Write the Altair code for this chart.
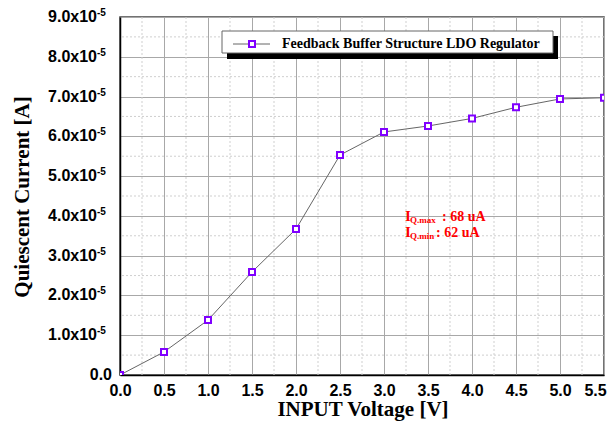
import altair as alt
import pandas as pd

# ---- data ----
voltage = [0.0, 0.5, 1.0, 1.5, 2.0, 2.5, 3.0, 3.5, 4.0, 4.5, 5.0, 5.5]
current = [0.0, 0.58e-5, 1.38e-5, 2.59e-5, 3.67e-5, 5.53e-5, 6.11e-5, 6.26e-5,
           6.45e-5, 6.73e-5, 6.94e-5, 6.97e-5]

x_ticks = [0.0, 0.5, 1.0, 1.5, 2.0, 2.5, 3.0, 3.5, 4.0, 4.5, 5.0, 5.5]
x_minor = [0.25, 0.75, 1.25, 1.75, 2.25, 2.75, 3.25, 3.75, 4.25, 4.75, 5.25]
y_ticks = [0.0, 1e-5, 2e-5, 3e-5, 4e-5, 5e-5, 6e-5, 7e-5, 8e-5, 9e-5]
y_minor = [0.5e-5, 1.5e-5, 2.5e-5, 3.5e-5, 4.5e-5, 5.5e-5, 6.5e-5, 7.5e-5, 8.5e-5]
y_tick_mantissa = ["1.0x10", "2.0x10", "3.0x10", "4.0x10", "5.0x10",
                   "6.0x10", "7.0x10", "8.0x10", "9.0x10"]
y_tick_exponent = "-5"
y_zero_label = "0.0"

series_name = "Feedback Buffer Structure LDO Regulator"
x_title = "INPUT Voltage [V]"
y_title = "Quiescent Current [A]"
ann_max = ["I", "Q.max", ": 68 uA"]
ann_min = ["I", "Q.min", ": 62 uA"]

# ---- styling ----
W, H = 484, 358
PURPLE = "#8000ff"
SANS = "Liberation Sans"
SERIF = "Liberation Serif"

df = pd.DataFrame({"v": voltage, "i": current})
one = pd.DataFrame({"a": [0]})

xs = alt.Scale(domain=[0, 5.5], nice=False, zero=False)
ys = alt.Scale(domain=[0, 9e-5], nice=False)

ax_x = alt.Axis(values=x_ticks, format=".1f", ticks=False, labelPadding=7,
                labelFont=SANS, labelFontWeight="bold", labelFontSize=16,
                labelColor="black", grid=True, gridColor="#a8a8a8", gridWidth=1,
                domainColor="black", domainWidth=1.5, title=None,
                labelFlush=False, labelOverlap=False,
                labelOffset={"condition": {"test": "datum.value >= 5.5", "value": -9},
                             "value": 0})
ax_y = alt.Axis(values=y_ticks, labels=False, ticks=False, grid=True,
                gridColor="#a8a8a8", gridWidth=1, domainColor="black",
                domainWidth=1.5, title=None)

X = lambda f: alt.X(f, type="quantitative", scale=xs, axis=ax_x)
Y = lambda f: alt.Y(f, type="quantitative", scale=ys, axis=ax_y)

minor_x = alt.Chart(pd.DataFrame({"v": x_minor})).mark_rule(
    color="#cfcfcf", strokeDash=[2, 2], strokeWidth=1).encode(x=X("v"))
minor_y = alt.Chart(pd.DataFrame({"i": y_minor})).mark_rule(
    color="#cfcfcf", strokeDash=[2, 2], strokeWidth=1).encode(y=Y("i"))

line = alt.Chart(df).mark_line(color="#666666", strokeWidth=1).encode(x=X("v"), y=Y("i"))
pts = alt.Chart(df).mark_point(shape="square", size=36, fill="white",
                               stroke=PURPLE, strokeWidth=2, opacity=1,
                               fillOpacity=1, clip=True).encode(x=X("v"), y=Y("i"))

# y tick labels with superscript exponent
ylab_df = pd.DataFrame({"i": y_ticks[1:], "t": y_tick_mantissa})
ylab = alt.Chart(ylab_df).mark_text(align="right", baseline="middle", font=SANS,
                                    fontWeight="bold", fontSize=16, color="black"
                                    ).encode(y=Y("i"), x=alt.value(-23), text="t:N")
ysup = alt.Chart(ylab_df).mark_text(align="left", baseline="middle", font=SANS,
                                    fontWeight="bold", fontSize=10, color="black",
                                    dy=-4, text=y_tick_exponent
                                    ).encode(y=Y("i"), x=alt.value(-23))
yzero = alt.Chart(pd.DataFrame({"i": y_ticks[:1], "t": [y_zero_label]})).mark_text(
    align="right", baseline="middle", font=SANS, fontWeight="bold", fontSize=16,
    color="black").encode(y=Y("i"), x=alt.value(-8), text="t:N")

ytitle = alt.Chart(one).mark_text(text=y_title, angle=270, align="center",
                                  baseline="middle", font=SERIF, fontWeight="bold",
                                  fontSize=21, color="black"
                                  ).encode(x=alt.value(-97), y=alt.value(180))
xtitle = alt.Chart(one).mark_text(text=x_title, align="center",
                                  baseline="alphabetic", font=SERIF, fontWeight="bold",
                                  fontSize=21, color="black"
                                  ).encode(x=alt.value(243), y=alt.value(H + 41))

# legend box
shadow = alt.Chart(one).mark_rect(color="black").encode(
    x=alt.value(107), x2=alt.value(438), y=alt.value(19), y2=alt.value(42))
box = alt.Chart(one).mark_rect(fill="white", stroke="#666666", strokeWidth=1).encode(
    x=alt.value(102), x2=alt.value(433), y=alt.value(14), y2=alt.value(36))
leg_line = alt.Chart(one).mark_rule(color="#666666", strokeWidth=1).encode(
    x=alt.value(113), x2=alt.value(150), y=alt.value(27))
leg_pt = alt.Chart(one).mark_point(shape="square", size=36, fill="white",
                                   stroke=PURPLE, strokeWidth=2, opacity=1,
                                   fillOpacity=1).encode(x=alt.value(132), y=alt.value(27))
leg_txt = alt.Chart(one).mark_text(text=series_name, align="left", baseline="middle",
                                   font=SERIF, fontWeight="bold", fontSize=14,
                                   color="black").encode(x=alt.value(162), y=alt.value(27))

# red annotations
def ann(parts, base_y, colon_x):
    big = alt.Chart(one).mark_text(text=parts[0], align="left", baseline="alphabetic",
                                   font=SERIF, fontWeight="bold", fontSize=15,
                                   color="#ff0000").encode(x=alt.value(285), y=alt.value(base_y))
    sub = alt.Chart(one).mark_text(text=parts[1], align="left", baseline="alphabetic",
                                   font=SERIF, fontWeight="bold", fontSize=9,
                                   color="#ff0000").encode(x=alt.value(290), y=alt.value(base_y + 2))
    rest = alt.Chart(one).mark_text(text=parts[2], align="left", baseline="alphabetic",
                                    font=SERIF, fontWeight="bold", fontSize=14,
                                    color="#ff0000").encode(x=alt.value(colon_x), y=alt.value(base_y))
    return [big, sub, rest]

layers = [minor_x, minor_y, line, pts, ylab, ysup, yzero, ytitle, xtitle,
          shadow, box, leg_line, leg_pt, leg_txt] + ann(ann_max, 204, 322) + ann(ann_min, 220, 316)

chart = alt.layer(*layers).properties(
    width=W, height=H,
    autosize=alt.AutoSizeParams(type="none"),
    padding={"left": 112, "top": 9, "right": 4, "bottom": 47},
    background="white",
).configure_view(stroke="#444444", strokeWidth=1.5)

chart.save("out.html", embed_options={"renderer": "svg", "actions": False})
